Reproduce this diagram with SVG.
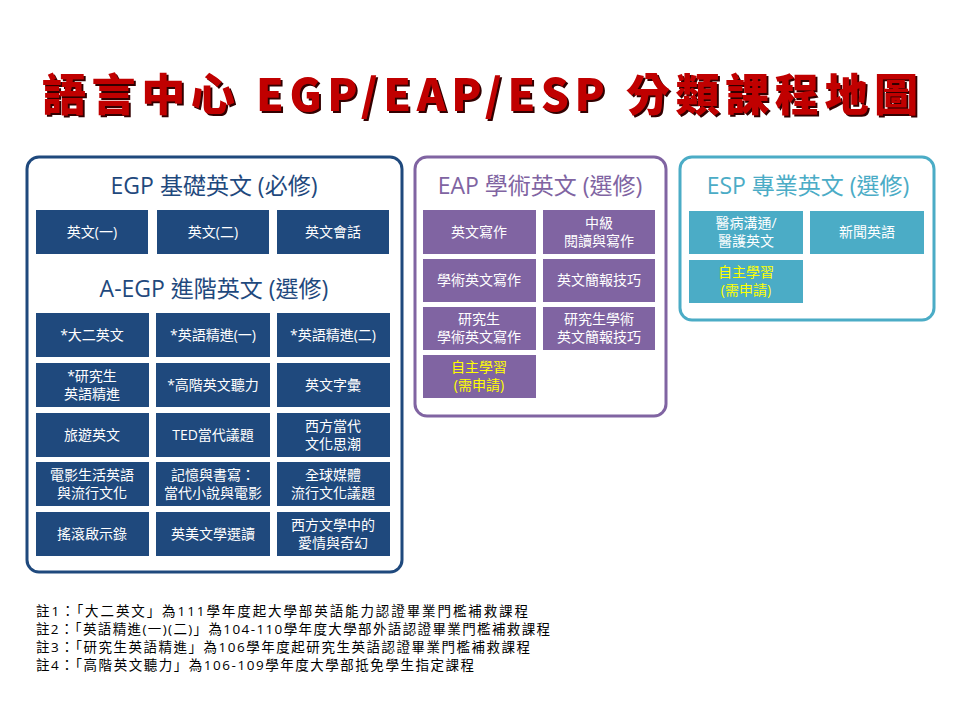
<svg xmlns="http://www.w3.org/2000/svg" width="960" height="720" viewBox="0 0 960 720">
<defs>
<filter id="sh" x="-5%" y="-20%" width="110%" height="140%"><feDropShadow dx="2" dy="2" stdDeviation="0.5" flood-color="#300000"/></filter>
</defs>
<style>
text{font-family:"Open Sans","Noto Sans CJK TC",sans-serif;text-anchor:middle}
.b{fill:#1f497d}.p{fill:#8064a2}.c{fill:#4bacc6}
.t{fill:#fff;font-size:14px}
.y{fill:#ffff00;font-size:14px}
.h{font-size:23px}
.n{font-size:13.5px;text-anchor:start;fill:#000}
</style>
<rect width="960" height="720" fill="#fff"/>
<g id="title">
<text x="480" y="111" fill="#c00000" font-weight="900" font-size="44" textLength="876" lengthAdjust="spacing" filter="url(#sh)" style="font-family:'Noto Sans CJK TC','Liberation Sans',sans-serif">語言中心 EGP/EAP/ESP 分類課程地圖</text>
</g>
<g id="egp">
<rect x="27" y="157" width="375" height="415" rx="12" fill="none" stroke="#1f497d" stroke-width="3"/>
<text class="h" x="214" y="194" fill="#1f497d">EGP 基礎英文 (必修)</text>
<rect class="b" x="36" y="210" width="112" height="44"/><text class="t" x="92" y="237">英文(一)</text>
<rect class="b" x="157" y="210" width="112" height="44"/><text class="t" x="213" y="237">英文(二)</text>
<rect class="b" x="277" y="210" width="112" height="44"/><text class="t" x="333" y="237">英文會話</text>
<text class="h" x="214" y="297" fill="#1f497d">A-EGP 進階英文 (選修)</text>
<rect class="b" x="36" y="313" width="113" height="44"/><text class="t" x="92" y="340">*大二英文</text>
<rect class="b" x="156" y="313" width="114" height="44"/><text class="t" x="213" y="340">*英語精進(一)</text>
<rect class="b" x="277" y="313" width="113" height="44"/><text class="t" x="333" y="340">*英語精進(二)</text>
<rect class="b" x="36" y="363" width="113" height="44"/><text class="t" x="92" y="381">*研究生</text><text class="t" x="92" y="399">英語精進</text>
<rect class="b" x="156" y="363" width="114" height="44"/><text class="t" x="213" y="390">*高階英文聽力</text>
<rect class="b" x="277" y="363" width="113" height="44"/><text class="t" x="333" y="390">英文字彙</text>
<rect class="b" x="36" y="413" width="113" height="44"/><text class="t" x="92" y="440">旅遊英文</text>
<rect class="b" x="156" y="413" width="114" height="44"/><text class="t" x="213" y="440">TED當代議題</text>
<rect class="b" x="277" y="413" width="113" height="44"/><text class="t" x="333" y="431">西方當代</text><text class="t" x="333" y="449">文化思潮</text>
<rect class="b" x="36" y="462" width="113" height="44"/><text class="t" x="92" y="480">電影生活英語</text><text class="t" x="92" y="498">與流行文化</text>
<rect class="b" x="156" y="462" width="114" height="44"/><text class="t" x="213" y="480">記憶與書寫：</text><text class="t" x="213" y="498">當代小說與電影</text>
<rect class="b" x="277" y="462" width="113" height="44"/><text class="t" x="333" y="480">全球媒體</text><text class="t" x="333" y="498">流行文化議題</text>
<rect class="b" x="36" y="512" width="113" height="44"/><text class="t" x="92" y="539">搖滾啟示錄</text>
<rect class="b" x="156" y="512" width="114" height="44"/><text class="t" x="213" y="539">英美文學選讀</text>
<rect class="b" x="277" y="512" width="113" height="44"/><text class="t" x="333" y="530">西方文學中的</text><text class="t" x="333" y="548">愛情與奇幻</text>
</g>
<g id="eap">
<rect x="415" y="157" width="251" height="259" rx="12" fill="none" stroke="#8064a2" stroke-width="3"/>
<text class="h" x="540" y="194" fill="#8064a2">EAP 學術英文 (選修)</text>
<rect class="p" x="423" y="210" width="113" height="44"/><text class="t" x="479" y="237">英文寫作</text>
<rect class="p" x="543" y="210" width="112" height="44"/><text class="t" x="599" y="228">中級</text><text class="t" x="599" y="246">閱讀與寫作</text>
<rect class="p" x="423" y="259" width="113" height="43"/><text class="t" x="479" y="285">學術英文寫作</text>
<rect class="p" x="543" y="259" width="112" height="43"/><text class="t" x="599" y="285">英文簡報技巧</text>
<rect class="p" x="423" y="307" width="113" height="43"/><text class="t" x="479" y="324">研究生</text><text class="t" x="479" y="342">學術英文寫作</text>
<rect class="p" x="543" y="307" width="112" height="43"/><text class="t" x="599" y="324">研究生學術</text><text class="t" x="599" y="342">英文簡報技巧</text>
<rect class="p" x="423" y="355" width="113" height="43"/><text class="y" x="479" y="372">自主學習</text><text class="y" x="479" y="390">(需申請)</text>
</g>
<g id="esp">
<rect x="680" y="157" width="254" height="163" rx="12" fill="none" stroke="#4bacc6" stroke-width="3"/>
<text class="h" x="808" y="194" fill="#4bacc6">ESP 專業英文 (選修)</text>
<rect class="c" x="689" y="211" width="114" height="43"/><text class="t" x="746" y="228">醫病溝通/</text><text class="t" x="746" y="246">醫護英文</text>
<rect class="c" x="810" y="211" width="114" height="43"/><text class="t" x="867" y="237">新聞英語</text>
<rect class="c" x="689" y="260" width="114" height="43"/><text class="y" x="746" y="277">自主學習</text><text class="y" x="746" y="295">(需申請)</text>
</g>
<g id="notes">
<text class="n" x="36" y="616" textLength="492">註1：「大二英文」為111學年度起大學部英語能力認證畢業門檻補救課程</text>
<text class="n" x="36" y="634" textLength="514">註2：「英語精進(一)(二)」為104-110學年度大學部外語認證畢業門檻補救課程</text>
<text class="n" x="36" y="652" textLength="494">註3：「研究生英語精進」為106學年度起研究生英語認證畢業門檻補救課程</text>
<text class="n" x="36" y="670" textLength="438">註4：「高階英文聽力」為106-109學年度大學部抵免學生指定課程</text>
</g>
<g id="connectors"/>
</svg>
